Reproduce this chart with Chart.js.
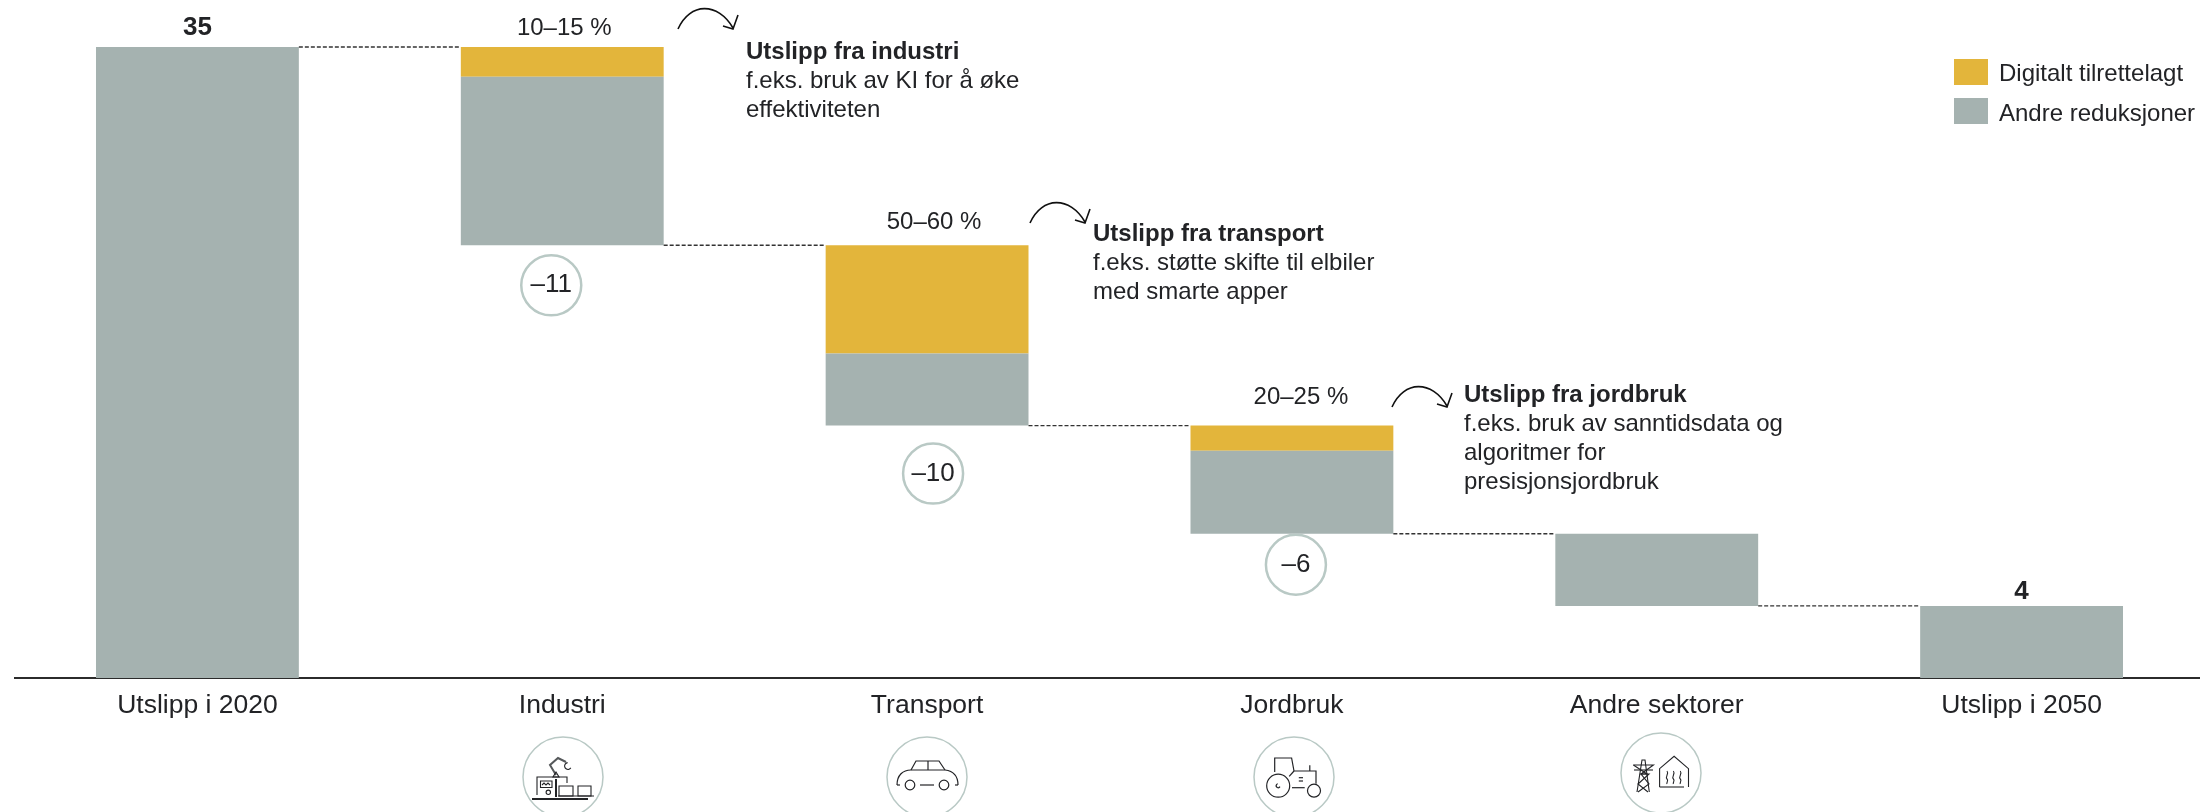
<!DOCTYPE html>
<html lang="no">
<head>
<meta charset="utf-8">
<title>Utslippsreduksjoner</title>
<script src="https://cdn.jsdelivr.net/npm/chart.js@4/dist/chart.umd.min.js"></script>
<style>
  html, body { margin: 0; padding: 0; background: #fff; overflow: hidden; }
  canvas { display: block; }
</style>
</head>
<body>
<canvas id="waterfall" width="2204" height="812"></canvas>
<script>
// waterfall values, in the order of the x axis
const categories = ['Utslipp i 2020', 'Industri', 'Transport', 'Jordbruk', 'Andre sektorer', 'Utslipp i 2050'];
const hiddenBase = [0, 24, 14, 8, 4, 0];
const otherCuts = [35, 9.35, 4, 4.6, 4, 4];
const digitalCuts = [0, 1.65, 6, 1.4, 0, 0];
const totalLabels = ['35', '', '', '', '', '4'];
const shareLabels = ['', '10–15 %', '50–60 %', '20–25 %', '', ''];
const changeLabels = ['', '–11', '–10', '–6', '', ''];
const legendLabels = ['Digitalt tilrettelagt', 'Andre reduksjoner'];
const calloutTitles = ['Utslipp fra industri', 'Utslipp fra transport', 'Utslipp fra jordbruk'];
const calloutLines = [
  ['f.eks. bruk av KI for å øke', 'effektiviteten'],
  ['f.eks. støtte skifte til elbiler', 'med smarte apper'],
  ['f.eks. bruk av sanntidsdata og', 'algoritmer for', 'presisjonsjordbruk']
];

const YELLOW = '#E3B53B';
const GREY = '#A5B2B0';
const INK = '#222326';
const RING = '#B9C9C5';
const FONT = '"Liberation Sans", Arial, sans-serif';

// offsets from the bar they belong to
const totalOffset = { 0: -19, 5: -14 };
const shareOffset = { 1: [2, -19], 2: [7, -23], 3: [9, -28] };
const ringOffset = { 1: [-11, 40, 30], 2: [6, 48, 30], 3: [4, 31, 30] };
const calloutPos = [[746, 52, 0, 0], [1093, 234, 352, 194], [1464, 395, 714, 378]];

function text(ctx, str, x, y, font, align) {
  ctx.font = font;
  ctx.fillStyle = INK;
  ctx.textAlign = align || 'center';
  ctx.textBaseline = 'middle';
  ctx.fillText(str, x, y);
}

function poly(ctx, pts, close) {
  ctx.beginPath();
  pts.forEach((p, i) => i ? ctx.lineTo(p[0], p[1]) : ctx.moveTo(p[0], p[1]));
  if (close) ctx.closePath();
  ctx.stroke();
}

function circle(ctx, x, y, r) {
  ctx.beginPath();
  ctx.arc(x, y, r, 0, Math.PI * 2);
  ctx.stroke();
}

function drawFactory(ctx) {
  ctx.lineWidth = 1.1;
  poly(ctx, [[-26, 18], [-26, 0], [4, 0], [4, 6]]);
  poly(ctx, [[-22.5, 4], [-11, 4], [-11, 10.5], [-22.5, 10.5]], true);
  poly(ctx, [[-21, 8], [-19, 6], [-17, 8], [-15, 6], [-13, 8]]);
  circle(ctx, -14.7, 15.3, 2.2);
  poly(ctx, [[-4, 9], [10, 9], [10, 19], [-4, 19]], true);
  poly(ctx, [[15, 9], [28, 9], [28, 19], [15, 19]], true);
  poly(ctx, [[-5, 19], [31, 19]]);
  ctx.lineWidth = 2;
  poly(ctx, [[-7, 2], [-7, 20]]);
  poly(ctx, [[-31, 22], [25, 22]]);
  // robot arm
  ctx.strokeStyle = '#55585a';
  poly(ctx, [[-7, -2], [-13, -12], [-5, -19], [3, -15]]);
  ctx.strokeStyle = INK;
  ctx.lineWidth = 1.1;
  poly(ctx, [[-10, 0], [-4, 0], [-7, -5]], true);
  ctx.beginPath();
  ctx.arc(5, -11, 3.4, 0.6, 4.6);
  ctx.stroke();
}

function drawCar(ctx) {
  ctx.lineWidth = 1.2;
  poly(ctx, [[-16, -7], [-11, -16], [12, -16], [18, -7]]);
  poly(ctx, [[1, -16], [1, -7]]);
  ctx.beginPath();
  ctx.moveTo(-30, 8);
  ctx.bezierCurveTo(-30, -2, -24, -7, -16, -7);
  ctx.lineTo(18, -7);
  ctx.bezierCurveTo(26, -6, 31, -1, 31, 8);
  ctx.stroke();
  poly(ctx, [[-30, 8], [-27, 8]]);
  poly(ctx, [[28, 8], [31, 8]]);
  circle(ctx, -17, 8, 4.8);
  circle(ctx, 17, 8, 4.8);
  poly(ctx, [[-7, 8], [7, 8]]);
}

function drawTractor(ctx) {
  ctx.lineWidth = 1.2;
  poly(ctx, [[-19.3, -5], [-19.3, -19], [-2.4, -19], [0, -6], [22, -6], [22, 6.7]]);
  poly(ctx, [[-4.8, -0.7], [0, -6]]);
  poly(ctx, [[15.8, -11.7], [15.8, -6]]);
  circle(ctx, -15.8, 8.7, 11.5);
  circle(ctx, 20, 13.7, 6.5);
  ctx.beginPath();
  ctx.arc(-15.8, 8.7, 2, 0.5, 4.5);
  ctx.stroke();
  poly(ctx, [[-2, 10.7], [10.7, 10.7]]);
  poly(ctx, [[4.8, 0.7], [9, 0.7]]);
  poly(ctx, [[4.8, 4], [9, 4]]);
}

function drawGrid(ctx) {
  ctx.lineWidth = 1.1;
  poly(ctx, [[-24, 19], [-19, -13], [-16, -13], [-11.7, 19]]);
  poly(ctx, [[-27.6, -8], [-7.6, -8], [-20, 1], [-12, 1], [-23, 11], [-13, 19]]);
  poly(ctx, [[-27.6, -8], [-14, 1], [-20, 1], [-12, 11], [-23, 19]]);
  poly(ctx, [[-27, -3], [-8, -3]]);
  poly(ctx, [[-1.4, 14], [-1.4, -4.3], [13.1, -16.7], [27.5, -4.3], [27.5, 14]]);
  poly(ctx, [[-1.4, 14], [23, 14]]);
  [6, 12.4, 19.3].forEach(x => {
    ctx.beginPath();
    ctx.moveTo(x, -2);
    ctx.bezierCurveTo(x + 2.5, 1, x - 2.5, 4, x, 6);
    ctx.bezierCurveTo(x + 2, 8, x - 1, 9.5, x, 11);
    ctx.stroke();
  });
}

const iconDraw = [null, drawFactory, drawCar, drawTractor, drawGrid, null];
const iconRing = [null, [563, 777], [927, 777], [1294, 777], [1661, 773], null];

const overlays = {
  id: 'overlays',
  afterDatasetsDraw(chart) {
    const ctx = chart.ctx;
    const x = chart.scales.x;
    const y = chart.scales.y;
    const tops = categories.map((c, i) => hiddenBase[i] + otherCuts[i] + digitalCuts[i]);
    const halfBar = chart.getDatasetMeta(1).data[0].width / 2;
    ctx.save();

    // dashed links between neighbouring bars
    ctx.strokeStyle = '#333';
    ctx.lineWidth = 1.4;
    ctx.setLineDash([4, 2]);
    for (let i = 0; i < categories.length - 1; i++) {
      const ly = y.getPixelForValue(tops[i + 1]);
      poly(ctx, [[x.getPixelForValue(i) + halfBar, ly], [x.getPixelForValue(i + 1) - halfBar, ly]]);
    }
    ctx.setLineDash([]);

    categories.forEach((c, i) => {
      const cx = x.getPixelForValue(i);
      const topY = y.getPixelForValue(tops[i]);
      const bottomY = y.getPixelForValue(hiddenBase[i]);
      if (totalLabels[i]) text(ctx, totalLabels[i], cx, topY + totalOffset[i], 'bold 26px ' + FONT);
      if (shareLabels[i]) {
        const o = shareOffset[i];
        text(ctx, shareLabels[i], cx + o[0], topY + o[1], '24px ' + FONT);
      }
      if (changeLabels[i]) {
        const o = ringOffset[i];
        ctx.strokeStyle = RING;
        ctx.lineWidth = 2.5;
        circle(ctx, cx + o[0], bottomY + o[1], o[2]);
        text(ctx, changeLabels[i], cx + o[0], bottomY + o[1], '26px ' + FONT);
      }
      if (iconDraw[i]) {
        const pos = iconRing[i];
        ctx.strokeStyle = RING;
        ctx.lineWidth = 1.5;
        circle(ctx, pos[0], pos[1], 40);
        ctx.save();
        ctx.translate(pos[0], pos[1]);
        ctx.strokeStyle = INK;
        iconDraw[i](ctx);
        ctx.restore();
      }
    });

    // notes to the right of the three digital bars
    calloutTitles.forEach((title, i) => {
      const p = calloutPos[i];
      text(ctx, title, p[0], p[1], 'bold 24px ' + FONT, 'left');
      calloutLines[i].forEach((line, k) => text(ctx, line, p[0], p[1] + 29 * (k + 1), '24px ' + FONT, 'left'));
      ctx.strokeStyle = '#111';
      ctx.lineWidth = 1.6;
      ctx.beginPath();
      ctx.moveTo(678 + p[2], 29 + p[3]);
      ctx.bezierCurveTo(690 + p[2], 2 + p[3], 718 + p[2], 2 + p[3], 733 + p[2], 28 + p[3]);
      ctx.stroke();
      poly(ctx, [[738 + p[2], 15 + p[3]], [733 + p[2], 29 + p[3]], [723 + p[2], 26 + p[3]]]);
    });

    // legend
    [YELLOW, GREY].forEach((col, i) => {
      ctx.fillStyle = col;
      ctx.fillRect(1954, 59 + i * 39, 34, 26);
      text(ctx, legendLabels[i], 1999, 74 + i * 40, '24px ' + FONT, 'left');
    });
    ctx.restore();
  }
};

new Chart(document.getElementById('waterfall').getContext('2d'), {
  type: 'bar',
  data: {
    labels: categories,
    datasets: [
      { label: 'base', data: hiddenBase, backgroundColor: 'rgba(0,0,0,0)' },
      { label: legendLabels[1], data: otherCuts, backgroundColor: GREY },
      { label: legendLabels[0], data: digitalCuts, backgroundColor: YELLOW }
    ]
  },
  options: {
    responsive: false,
    animation: false,
    layout: { padding: { top: 47, left: 15, right: 0, bottom: 0 } },
    datasets: { bar: { categoryPercentage: 0.556, barPercentage: 1, borderWidth: 0 } },
    plugins: { legend: { display: false }, tooltip: { enabled: false } },
    scales: {
      x: {
        stacked: true,
        afterFit: scale => { scale.height = 134; },
        grid: { display: false, drawTicks: false },
        border: { display: true, color: '#2b2b2b', width: 2 },
        ticks: {
          autoSkip: false,
          maxRotation: 0,
          padding: 12,
          color: INK,
          font: { family: FONT, size: 26.5 }
        }
      },
      y: { stacked: true, display: false, min: 0, max: 35 }
    }
  },
  plugins: [overlays]
});
</script>
</body>
</html>
